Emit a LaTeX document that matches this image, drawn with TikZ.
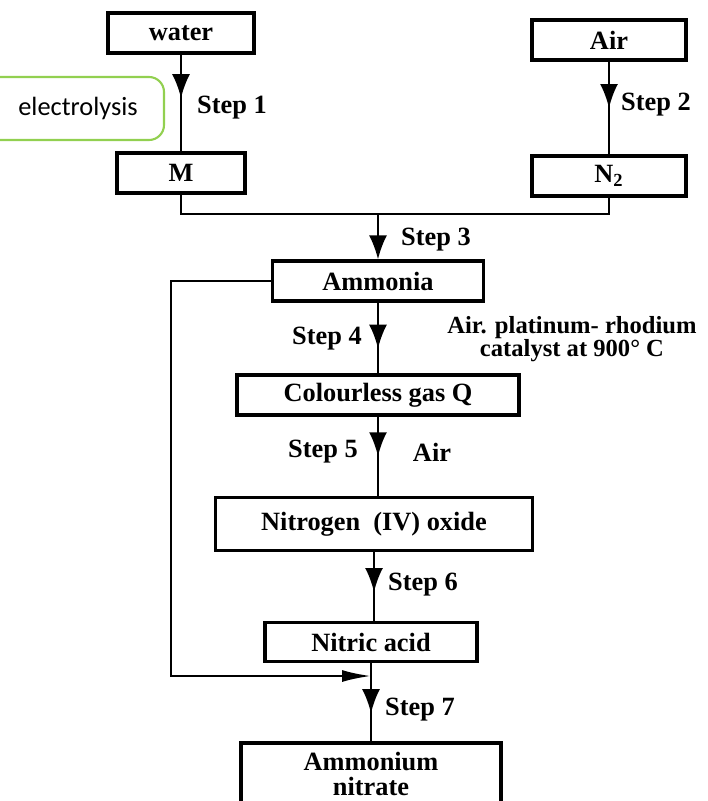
\documentclass[tikz,border=0pt]{standalone}
\usepackage{fontspec}
\setmainfont{Liberation Serif}
\newfontfamily\notefont{Carlito}
\usetikzlibrary{arrows.meta,decorations.markings}

\definecolor{notegreen}{RGB}{146,208,80}

\begin{document}
\begin{tikzpicture}[x=0.02cm,y=-0.02cm,line width=1.3pt,
  box/.style={draw,line width=1.8pt,minimum height=0.8cm,inner sep=0pt,
    font=\bfseries\fontsize{15}{14}\selectfont},
  steplabel/.style={font=\bfseries\fontsize{15}{14}\selectfont,inner sep=0pt},
  midarrow/.style={postaction={decorate},decoration={markings,
    mark=at position #1 with {\arrow{Latex[length=4.8mm,width=3.6mm]}}}}]

\useasboundingbox (0,0) rectangle (707,801);

\node[box,minimum width=2.92cm] (water) at (181,33) {water};
\node[box,minimum width=3.08cm] (air) at (609,40) {Air};
\node[box,minimum width=2.56cm] (m) at (181,173) {M};
\node[box,minimum width=3.08cm] (n2) at (609,176) {N\textsubscript{2}};

\node[box,minimum width=4.22cm] (ammonia) at (378,281) {Ammonia};
\node[box,minimum width=5.64cm] (gasq) at (378,395) {Colourless gas Q};
\node[box,minimum width=6.34cm,minimum height=1.06cm] (no2) at (374,524) {Nitrogen~~(IV) oxide};
\node[box,minimum width=4.24cm,minimum height=0.78cm] (nitric) at (371,642) {Nitric acid};
\node[box,minimum width=5.2cm,minimum height=1.24cm,align=center] (nitrate) at (371,774) {Ammonium\\nitrate};

\node[font=\notefont\fontsize{15}{15}\selectfont,inner sep=0pt] (elec) at (78,108) {electrolysis};
\draw[notegreen,line width=1.2pt,rounded corners=0.3cm] (0,77) -- (164,77) -- (164,140) -- (0,140);

\draw[midarrow=0.45] (water.south) -- (m.north);
\draw[midarrow=0.5] (air.south) -- (n2.north);

\coordinate (join) at (378,214);
\draw (m.south) |- (join);
\draw (n2.south) |- (join);
\draw[-{Latex[length=4.8mm,width=3.6mm]}] (join) -- (ammonia.north);

\draw[midarrow=0.65] (ammonia.south) -- (gasq.north);
\draw[midarrow=0.5] (gasq.south) -- (gasq.south |- no2.north);
\draw[midarrow=0.58] (no2.south) -- (no2.south |- nitric.north);
\draw[midarrow=0.64] (nitric.south) -- (nitrate.north);

\coordinate (loopend) at (371,676);
\draw[-{Latex[length=5.8mm,width=2.4mm]}] (ammonia.west) -- ++(-100,0) |- (loopend);

\node[steplabel] (s1) at (232,108) {Step 1};
\node[steplabel] (s2) at (656,105) {Step 2};
\node[steplabel] (s3) at (436,240) {Step 3};
\node[steplabel] (s4) at (327,339) {Step 4};
\node[steplabel,font=\bfseries\fontsize{14}{13}\selectfont,align=center] (cond) at (572,339) {Air. platinum- rhodium\\catalyst at 900° C};
\node[steplabel] (s5) at (323,452) {Step 5};
\node[steplabel] (air5) at (432,452) {Air};
\node[steplabel] (s6) at (423,585) {Step 6};
\node[steplabel] (s7) at (420,710) {Step 7};
\end{tikzpicture}
\end{document}
